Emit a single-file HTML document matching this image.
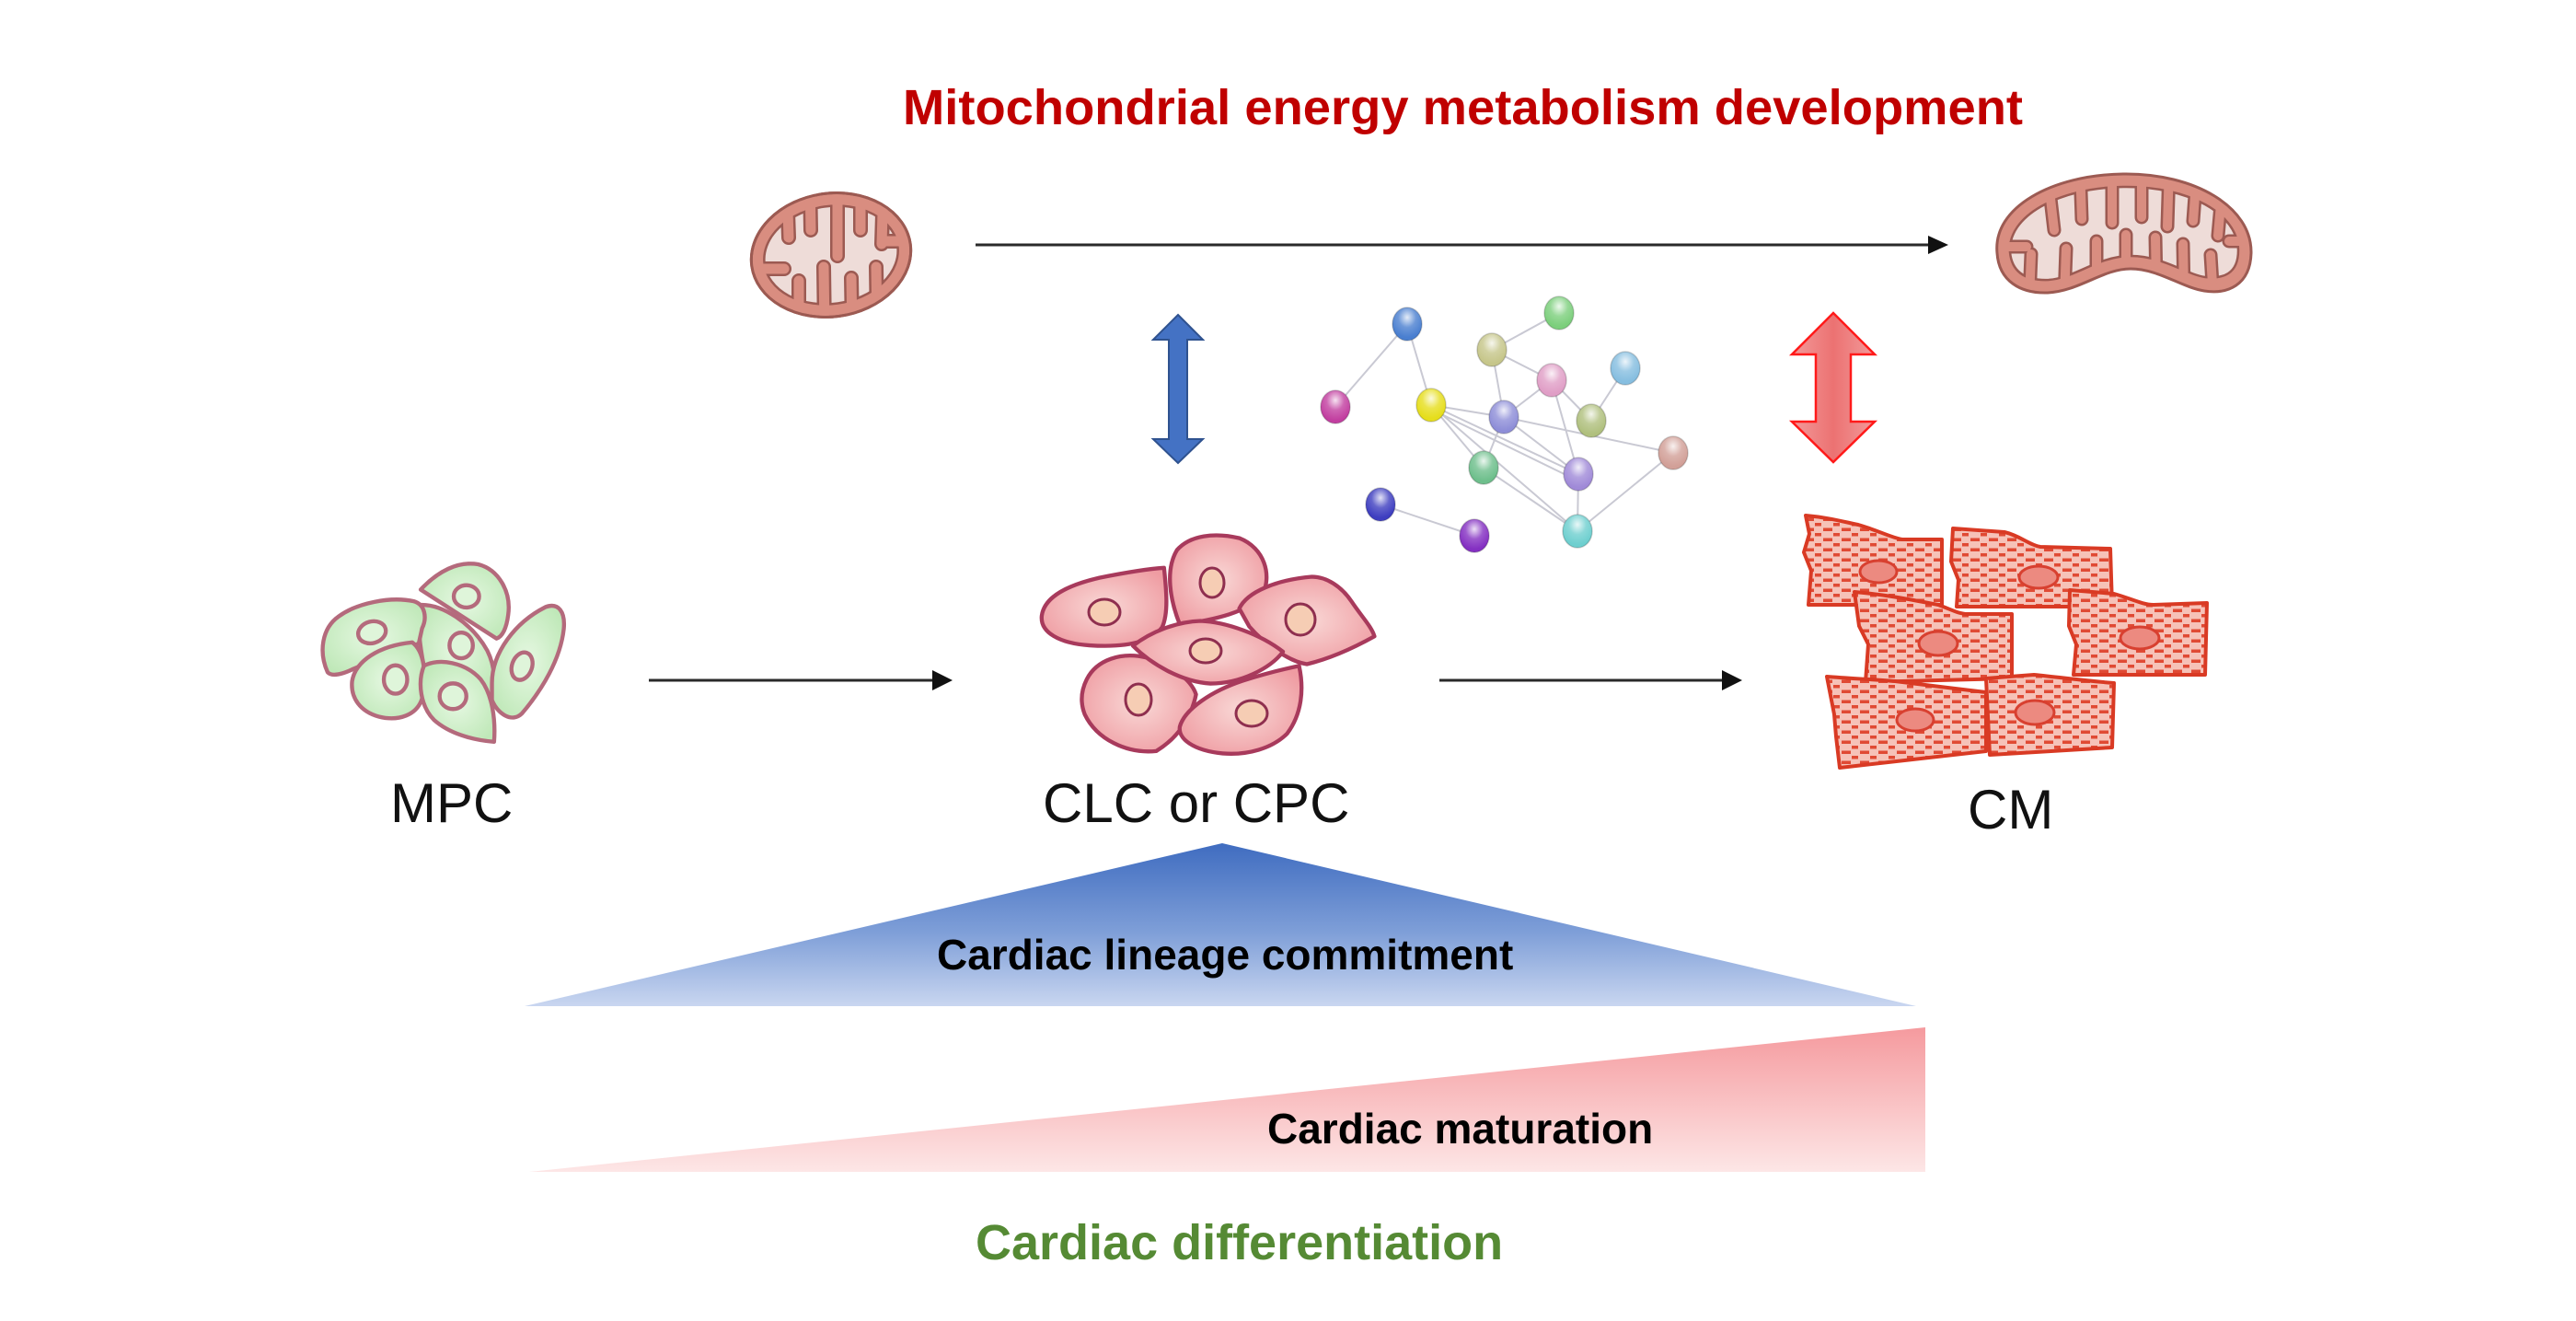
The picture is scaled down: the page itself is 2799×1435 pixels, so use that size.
<!DOCTYPE html>
<html><head><meta charset="utf-8"><style>
html,body{margin:0;padding:0;background:#fff;}
svg{display:block;}
text{font-family:"Liberation Sans",Arial,sans-serif;}
</style></head><body>
<svg width="2799" height="1435" viewBox="0 0 2799 1435" xmlns="http://www.w3.org/2000/svg">
<defs>
  <linearGradient id="blueTri" x1="0" y1="0" x2="0" y2="1">
    <stop offset="0" stop-color="#3f6cc0"/>
    <stop offset="0.55" stop-color="#7f9fd8"/>
    <stop offset="1" stop-color="#c9d6f0"/>
  </linearGradient>
  <linearGradient id="pinkTri" x1="0" y1="0" x2="0" y2="1">
    <stop offset="0" stop-color="#f59a9e"/>
    <stop offset="1" stop-color="#fde6e6"/>
  </linearGradient>
  <linearGradient id="redArrow" x1="0" y1="0" x2="1" y2="0">
    <stop offset="0" stop-color="#f29a9a"/>
    <stop offset="0.5" stop-color="#ec7272"/>
    <stop offset="1" stop-color="#f29a9a"/>
  </linearGradient>
  <radialGradient id="gloss" cx="0.5" cy="0.3" r="0.6">
    <stop offset="0" stop-color="#fff" stop-opacity="0.85"/>
    <stop offset="0.5" stop-color="#fff" stop-opacity="0.2"/>
    <stop offset="1" stop-color="#fff" stop-opacity="0"/>
  </radialGradient>
  <radialGradient id="pinkCell" cx="0.5" cy="0.5" r="0.6">
    <stop offset="0" stop-color="#f9d8d6"/>
    <stop offset="1" stop-color="#ef9ca2"/>
  </radialGradient>
  <radialGradient id="greenCell" cx="0.5" cy="0.5" r="0.6">
    <stop offset="0" stop-color="#e6f8e2"/>
    <stop offset="1" stop-color="#bfe8b8"/>
  </radialGradient>
  <pattern id="dash" patternUnits="userSpaceOnUse" width="20" height="11">
    <rect width="20" height="11" fill="#f6c2b8"/>
    <rect x="1" y="1.5" width="10" height="3.5" fill="#e04a34"/>
    <rect x="12" y="7" width="7" height="3.5" fill="#e04a34"/>
  </pattern>
  <clipPath id="lmInner"><ellipse cx="903" cy="277" rx="73" ry="53" transform="rotate(-8 903 277)"/></clipPath>
  <clipPath id="lmOuter"><ellipse cx="903" cy="277" rx="86" ry="66" transform="rotate(-8 903 277)"/></clipPath>
  <clipPath id="rmInner"><path d="M2184,274 C2181,235 2236,204 2307,203 C2378,202 2432,232 2432,272 C2432,298 2415,303 2396,301 C2375,298 2350,278 2315,278 C2280,278 2255,302 2226,304 C2200,305 2186,295 2184,274 Z"/></clipPath>
  <clipPath id="rmOuter"><path d="M2170,275 C2165,225 2230,190 2307,189 C2385,188 2447,225 2446,275 C2445,310 2420,320 2395,316 C2370,312 2345,292 2315,292 C2285,292 2260,316 2225,318 C2195,319 2172,305 2170,275 Z"/></clipPath>
</defs>

<rect width="2799" height="1435" fill="#fff"/>

<!-- Title -->
<text x="981" y="135" font-size="54" font-weight="bold" fill="#c00000" textLength="1217" lengthAdjust="spacingAndGlyphs">Mitochondrial energy metabolism development</text>

<!-- Left mitochondrion -->
<g>
  <ellipse cx="903" cy="277" rx="87" ry="67" transform="rotate(-8 903 277)" fill="#d98d80" stroke="#9c5a52" stroke-width="3"/>
  <ellipse cx="903" cy="277" rx="73" ry="53" transform="rotate(-8 903 277)" fill="#eedcd8" stroke="#9c5a52" stroke-width="2.5"/>
  <g clip-path="url(#lmInner)" stroke="#9c5a52" stroke-width="16" stroke-linecap="round" fill="none">
    <path d="M855,200 L857,258 M880,195 L881,250 M910,190 L910,278 M935,190 L935,250 M960,200 L958,265 M868,360 L868,305 M896,360 L895,290 M926,360 L925,302 M953,355 L952,290 M815,292 L852,292 M995,262 L962,262"/>
  </g>
  <g clip-path="url(#lmOuter)" stroke="#d98d80" stroke-width="11" stroke-linecap="round" fill="none">
    <path d="M855,200 L857,258 M880,195 L881,250 M910,190 L910,278 M935,190 L935,250 M960,200 L958,265 M868,360 L868,305 M896,360 L895,290 M926,360 L925,302 M953,355 L952,290 M815,292 L852,292 M995,262 L962,262"/>
  </g>
  <ellipse cx="903" cy="277" rx="87" ry="67" transform="rotate(-8 903 277)" fill="none" stroke="#9c5a52" stroke-width="3"/>
</g>

<!-- Right mitochondrion -->
<g>
  <path d="M2170,275 C2165,225 2230,190 2307,189 C2385,188 2447,225 2446,275 C2445,310 2420,320 2395,316 C2370,312 2345,292 2315,292 C2285,292 2260,316 2225,318 C2195,319 2172,305 2170,275 Z" fill="#d98d80"/>
  <path d="M2184,274 C2181,235 2236,204 2307,203 C2378,202 2432,232 2432,272 C2432,298 2415,303 2396,301 C2375,298 2350,278 2315,278 C2280,278 2255,302 2226,304 C2200,305 2186,295 2184,274 Z" fill="#eedcd8" stroke="#9c5a52" stroke-width="2.5"/>
  <g clip-path="url(#rmInner)" stroke="#9c5a52" stroke-width="15" stroke-linecap="round" fill="none">
    <path d="M2225,190 L2232,250 M2260,180 L2262,238 M2295,180 L2295,242 M2327,180 L2327,236 M2357,180 L2355,246 M2387,185 L2383,240 M2415,200 L2410,256 M2205,325 L2207,276 M2243,325 L2245,270 M2278,320 L2278,262 M2310,310 L2310,255 M2343,310 L2342,258 M2373,320 L2372,265 M2405,325 L2402,277 M2160,268 L2202,268 M2455,262 L2422,262"/>
  </g>
  <g clip-path="url(#rmOuter)" stroke="#d98d80" stroke-width="10" stroke-linecap="round" fill="none">
    <path d="M2225,190 L2232,250 M2260,180 L2262,238 M2295,180 L2295,242 M2327,180 L2327,236 M2357,180 L2355,246 M2387,185 L2383,240 M2415,200 L2410,256 M2205,325 L2207,276 M2243,325 L2245,270 M2278,320 L2278,262 M2310,310 L2310,255 M2343,310 L2342,258 M2373,320 L2372,265 M2405,325 L2402,277 M2160,268 L2202,268 M2455,262 L2422,262"/>
  </g>
  <path d="M2170,275 C2165,225 2230,190 2307,189 C2385,188 2447,225 2446,275 C2445,310 2420,320 2395,316 C2370,312 2345,292 2315,292 C2285,292 2260,316 2225,318 C2195,319 2172,305 2170,275 Z" fill="none" stroke="#9c5a52" stroke-width="3"/>
</g>

<!-- Top arrow -->
<line x1="1060" y1="266" x2="2097" y2="266" stroke="#2a2a2a" stroke-width="3"/>
<polygon points="2095,256 2117,266 2095,276" fill="#111"/>

<!-- Blue double arrow -->
<polygon points="1280,342 1307,369 1290,369 1290,477 1307,477 1280,503 1253,477 1270,477 1270,369 1253,369" fill="#4472c4" stroke="#2f528f" stroke-width="2"/>

<!-- Red double arrow -->
<polygon points="1992,340 2037,385 2011,385 2011,458 2037,458 1992,502 1947,458 1973,458 1973,385 1947,385" fill="url(#redArrow)" stroke="#ff1a1a" stroke-width="2.5"/>

<!-- Network edges -->
<g stroke="#c9c9d3" stroke-width="2" fill="none">
  <line x1="1529" y1="352" x2="1451" y2="442"/>
  <line x1="1529" y1="352" x2="1555" y2="440"/>
  <line x1="1694" y1="340" x2="1621" y2="380"/>
  <line x1="1621" y1="380" x2="1686" y2="413"/>
  <line x1="1621" y1="380" x2="1634" y2="453"/>
  <line x1="1686" y1="413" x2="1634" y2="453"/>
  <line x1="1686" y1="413" x2="1729" y2="457"/>
  <line x1="1686" y1="413" x2="1715" y2="515"/>
  <line x1="1766" y1="400" x2="1729" y2="457"/>
  <line x1="1555" y1="440" x2="1634" y2="453"/>
  <line x1="1555" y1="440" x2="1612" y2="508"/>
  <line x1="1555" y1="440" x2="1715" y2="515"/>
  <line x1="1558" y1="446" x2="1712" y2="521"/>
  <line x1="1555" y1="440" x2="1714" y2="577"/>
  <line x1="1634" y1="453" x2="1612" y2="508"/>
  <line x1="1634" y1="453" x2="1818" y2="492"/>
  <line x1="1634" y1="453" x2="1715" y2="515"/>
  <line x1="1612" y1="508" x2="1714" y2="577"/>
  <line x1="1715" y1="515" x2="1714" y2="577"/>
  <line x1="1818" y1="492" x2="1714" y2="577"/>
  <line x1="1500" y1="548" x2="1602" y2="582"/>
</g>

<!-- Network nodes -->
<g stroke="rgba(0,0,0,0.18)" stroke-width="1.5">
  <ellipse cx="1529" cy="352" rx="16" ry="18" fill="#4a7fd0"/>
  <ellipse cx="1694" cy="340" rx="16" ry="18" fill="#7ccf7c"/>
  <ellipse cx="1621" cy="380" rx="16" ry="18" fill="#c6c68a"/>
  <ellipse cx="1686" cy="413" rx="16" ry="18" fill="#e09ec6"/>
  <ellipse cx="1766" cy="400" rx="16" ry="18" fill="#86bee0"/>
  <ellipse cx="1451" cy="442" rx="16" ry="18" fill="#c23fa0"/>
  <ellipse cx="1555" cy="440" rx="16" ry="18" fill="#e6de1c"/>
  <ellipse cx="1634" cy="453" rx="16" ry="18" fill="#8e8ed8"/>
  <ellipse cx="1729" cy="457" rx="16" ry="18" fill="#b0c07e"/>
  <ellipse cx="1818" cy="492" rx="16" ry="18" fill="#d2a098"/>
  <ellipse cx="1612" cy="508" rx="16" ry="18" fill="#6ebf8c"/>
  <ellipse cx="1715" cy="515" rx="16" ry="18" fill="#a08ad8"/>
  <ellipse cx="1500" cy="548" rx="16" ry="18" fill="#3e3ec0"/>
  <ellipse cx="1602" cy="582" rx="16" ry="18" fill="#8430c2"/>
  <ellipse cx="1714" cy="577" rx="16" ry="18" fill="#6ecfcf"/>
</g>
<g fill="url(#gloss)">
  <ellipse cx="1529" cy="352" rx="16" ry="18"/>
  <ellipse cx="1694" cy="340" rx="16" ry="18"/>
  <ellipse cx="1621" cy="380" rx="16" ry="18"/>
  <ellipse cx="1686" cy="413" rx="16" ry="18"/>
  <ellipse cx="1766" cy="400" rx="16" ry="18"/>
  <ellipse cx="1451" cy="442" rx="16" ry="18"/>
  <ellipse cx="1555" cy="440" rx="16" ry="18"/>
  <ellipse cx="1634" cy="453" rx="16" ry="18"/>
  <ellipse cx="1729" cy="457" rx="16" ry="18"/>
  <ellipse cx="1818" cy="492" rx="16" ry="18"/>
  <ellipse cx="1612" cy="508" rx="16" ry="18"/>
  <ellipse cx="1715" cy="515" rx="16" ry="18"/>
  <ellipse cx="1500" cy="548" rx="16" ry="18"/>
  <ellipse cx="1602" cy="582" rx="16" ry="18"/>
  <ellipse cx="1714" cy="577" rx="16" ry="18"/>
</g>

<!-- MPC green cells -->
<g transform="translate(340,600) scale(0.33,0.3333)" stroke="#b46a7c" stroke-width="12" fill="url(#greenCell)" stroke-linejoin="round">
  <g transform="translate(475,320) scale(1.1) translate(-475,-320)">
    <path d="M360,185 C430,180 520,240 565,320 C590,370 590,420 575,455 L380,390 C365,320 355,250 360,185 Z"/>
    <ellipse cx="487" cy="305" rx="35" ry="38" fill="#dff5da"/>
  </g>
  <g transform="translate(200,275) scale(1.1) translate(-200,-275)">
    <path d="M62,380 C35,320 45,250 95,215 C150,175 250,155 320,170 C355,180 360,220 345,250 L335,295 C280,318 200,345 140,370 C110,385 75,395 62,380 Z"/>
    <ellipse cx="195" cy="262" rx="42" ry="32" transform="rotate(-15 195 262)" fill="#dff5da"/>
  </g>
  <g transform="translate(500,160) scale(1.1) translate(-500,-160)">
    <path d="M368,125 C420,70 480,40 540,50 C600,65 640,130 630,200 C625,240 612,265 595,270 Z"/>
    <ellipse cx="505" cy="145" rx="38" ry="33" fill="#dff5da"/>
  </g>
  <g transform="translate(250,420) scale(1.1) translate(-250,-420)">
    <path d="M140,420 C150,360 220,315 320,305 C355,330 365,400 350,470 C335,520 280,540 220,525 C165,510 135,470 140,420 Z"/>
    <ellipse cx="270" cy="415" rx="35" ry="42" fill="#dff5da"/>
  </g>
  <g transform="translate(470,480) scale(1.1) translate(-470,-480)">
    <path d="M375,380 C420,355 500,370 545,420 C580,465 590,540 585,605 C520,600 450,580 405,540 C365,500 355,430 375,380 Z"/>
    <ellipse cx="462" cy="470" rx="40" ry="38" fill="#dff5da"/>
  </g>
  <g transform="translate(705,360) scale(1.1) translate(-705,-360)">
    <path d="M600,420 C600,330 670,240 760,195 C800,180 820,210 815,260 C805,350 750,440 690,510 C660,540 615,510 600,470 Z"/>
    <ellipse cx="690" cy="370" rx="30" ry="42" transform="rotate(20 690 370)" fill="#dff5da"/>
  </g>
</g>

<!-- CLC/CPC pink cells -->
<g stroke="#a83a5c" stroke-width="4" fill="url(#pinkCell)" stroke-linejoin="round">
  <path transform="translate(1200,660) scale(1.08) translate(-1200,-660)" d="M1260,620 C1262,640 1265,665 1258,680 C1245,697 1215,700 1185,698 C1155,696 1135,685 1137,668 C1140,648 1165,637 1195,630 C1220,625 1245,621 1260,620 Z"/>
  <path transform="translate(1322,630) scale(1.08) translate(-1322,-630)" d="M1285,675 C1275,650 1270,620 1282,600 C1295,585 1320,582 1345,588 C1370,598 1378,625 1368,645 C1355,662 1320,670 1285,675 Z"/>
  <path transform="translate(1420,674) scale(1.08) translate(-1420,-674)" d="M1352,662 C1360,645 1390,633 1425,630 C1440,630 1455,640 1465,655 C1475,670 1485,680 1488,690 C1470,700 1445,712 1420,718 C1400,715 1375,695 1362,680 Z"/>
  <path transform="translate(1238,764) scale(1.08) translate(-1238,-764)" d="M1185,740 C1195,720 1220,712 1245,718 C1270,725 1290,740 1295,755 C1290,780 1275,800 1255,812 C1225,815 1195,800 1183,775 C1178,762 1180,750 1185,740 Z"/>
  <path transform="translate(1350,772) scale(1.08) translate(-1350,-772)" d="M1407,727 C1412,750 1410,775 1395,795 C1380,810 1355,817 1330,815 C1300,812 1285,800 1287,788 C1292,770 1320,752 1350,742 C1372,735 1392,730 1407,727 Z"/>
  <path transform="translate(1312,708) scale(1.08) translate(-1312,-708)" d="M1237,702 C1255,688 1280,678 1305,677 C1330,678 1365,690 1388,708 C1375,725 1345,740 1315,740 C1285,738 1255,720 1237,702 Z"/>
</g>
<g stroke="#8f2f4f" stroke-width="3" fill="#f6cdb4">
  <ellipse cx="1200" cy="665" rx="17" ry="14"/>
  <ellipse cx="1317" cy="633" rx="13" ry="16"/>
  <ellipse cx="1413" cy="673" rx="16" ry="17"/>
  <ellipse cx="1237" cy="760" rx="14" ry="17"/>
  <ellipse cx="1360" cy="775" rx="17" ry="14"/>
  <ellipse cx="1310" cy="707" rx="17" ry="13"/>
</g>

<!-- Cardiomyocytes -->
<g stroke="#d93a24" stroke-width="4" fill="url(#dash)" stroke-linejoin="round">
  <path d="M1962,560 C1985,562 2000,566 2019,570 C2040,576 2055,584 2067,586 L2110,586 L2110,657 L1965,657 L1968,620 L1960,600 L1966,580 Z"/>
  <path d="M2122,574 L2178,578 C2195,582 2205,592 2217,594 L2293,596 L2295,659 L2126,659 L2128,630 L2120,610 Z"/>
  <path d="M2249,641 L2297,645 C2315,650 2328,657 2340,657 L2398,655 L2396,733 L2253,733 L2256,700 L2248,680 Z"/>
  <path d="M2015,643 C2050,646 2080,652 2106,657 C2120,662 2128,667 2138,667 L2186,667 L2186,737 L2027,741 L2030,700 L2020,680 Z"/>
  <path d="M2158,737 L2210,733 C2240,736 2270,740 2297,742 L2295,812 L2162,820 Z"/>
  <path d="M1985,735 C2010,737 2035,738 2059,740 C2090,744 2125,748 2158,752 L2158,816 L1999,834 L1995,800 L1993,776 Z"/>
</g>
<g fill="#ec8a80" stroke="#d84030" stroke-width="3">
  <ellipse cx="2041" cy="621" rx="20" ry="12"/>
  <ellipse cx="2215" cy="627" rx="21" ry="12"/>
  <ellipse cx="2106" cy="699" rx="21" ry="13"/>
  <ellipse cx="2325" cy="693" rx="21" ry="12"/>
  <ellipse cx="2081" cy="782" rx="20" ry="12"/>
  <ellipse cx="2211" cy="774" rx="21" ry="13"/>
</g>

<!-- Horizontal arrows -->
<line x1="705" y1="739" x2="1015" y2="739" stroke="#2a2a2a" stroke-width="3"/>
<polygon points="1013,728 1035,739 1013,750" fill="#111"/>
<line x1="1564" y1="739" x2="1873" y2="739" stroke="#2a2a2a" stroke-width="3"/>
<polygon points="1871,728 1893,739 1871,750" fill="#111"/>

<!-- Cell labels -->
<text x="424" y="893" font-size="60" fill="#111">MPC</text>
<text x="1133" y="893" font-size="60" fill="#111">CLC or CPC</text>
<text x="2138" y="900" font-size="60" fill="#111">CM</text>

<!-- Triangles -->
<polygon points="1328,916 2082,1093 570,1093" fill="url(#blueTri)"/>
<polygon points="575,1273 2092,1116 2092,1273" fill="url(#pinkTri)"/>

<text x="1018" y="1053" font-size="46" font-weight="bold" fill="#000">Cardiac lineage commitment</text>
<text x="1377" y="1242" font-size="46" font-weight="bold" fill="#000">Cardiac maturation</text>
<text x="1060" y="1368" font-size="54" font-weight="bold" fill="#558a34">Cardiac differentiation</text>
</svg>
</body></html>
